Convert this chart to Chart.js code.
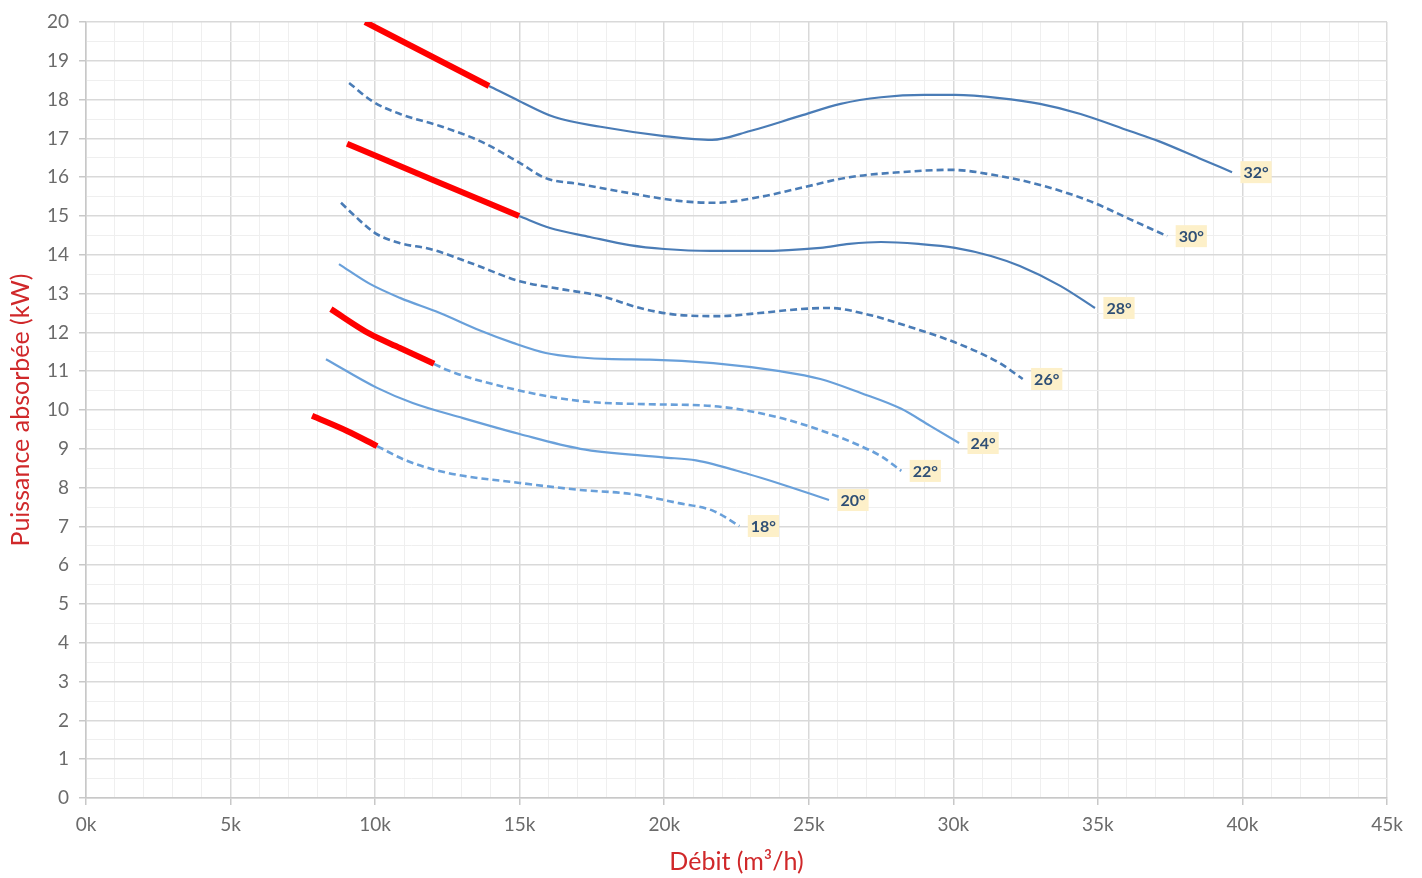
<!DOCTYPE html>
<html>
<head>
<meta charset="utf-8">
<script src="https://cdn.jsdelivr.net/npm/chart.js@4.4.0/dist/chart.umd.min.js"></script>
<style>
  html, body { margin: 0; padding: 0; background: #fff; }
  #wrap { width: 1422px; height: 878px; position: relative; }
</style>
</head>
<body>
<div id="wrap"><canvas id="courbes"></canvas></div>
<script>
// débit en milliers de m3/h, puissance en kW
var debit32 = [13.94, 15.0, 16.2, 17.8, 20.0, 21.65, 22.97, 24.7, 26.1, 27.5, 29.0, 30.06, 31.6, 33.0, 34.4, 36.1, 37.1, 38.5, 39.64];
var puiss32 = [18.35, 17.96, 17.55, 17.3, 17.06, 16.96, 17.19, 17.58, 17.89, 18.06, 18.12, 18.12, 18.04, 17.89, 17.63, 17.19, 16.93, 16.49, 16.13];
var debit32r = [9.65, 13.94];
var puiss32r = [20.0, 18.35];

var debit30 = [9.1, 9.9, 10.86, 12.24, 13.63, 15.0, 15.88, 17.1, 18.8, 20.5, 21.76, 23.3, 24.7, 26.4, 28.2, 29.9, 31.6, 33.0, 34.7, 36.1, 37.4];
var puiss30 = [18.43, 17.96, 17.63, 17.32, 16.93, 16.37, 15.98, 15.82, 15.59, 15.39, 15.34, 15.49, 15.72, 16.0, 16.13, 16.19, 16.03, 15.8, 15.39, 14.92, 14.48];

var debit28 = [14.98, 16.05, 17.43, 18.8, 20.0, 21.6, 23.3, 25.4, 26.4, 27.5, 28.8, 30.06, 31.3, 32.3, 33.7, 34.9];
var puiss28 = [15.0, 14.69, 14.46, 14.25, 14.15, 14.1, 14.1, 14.18, 14.28, 14.33, 14.28, 14.18, 13.97, 13.71, 13.2, 12.63];
var debit28r = [9.03, 12.0, 14.98];
var puiss28r = [16.86, 15.93, 15.0];

var debit26 = [8.82, 9.3, 10.0, 10.86, 11.9, 13.3, 15.0, 16.4, 17.8, 19.2, 20.5, 21.9, 23.3, 24.7, 25.7, 27.1, 28.5, 30.2, 31.6, 32.4];
var puiss26 = [15.34, 15.0, 14.56, 14.3, 14.15, 13.79, 13.32, 13.12, 12.94, 12.62, 12.45, 12.42, 12.5, 12.6, 12.63, 12.45, 12.14, 11.7, 11.21, 10.8];

var debit24 = [8.75, 9.82, 10.86, 12.24, 13.63, 14.77, 15.9, 17.0, 18.2, 19.5, 21.7, 24.0, 25.4, 26.8, 28.2, 29.2, 30.2];
var puiss24 = [13.76, 13.25, 12.89, 12.5, 12.05, 11.73, 11.47, 11.36, 11.31, 11.3, 11.21, 11.0, 10.8, 10.44, 10.03, 9.59, 9.15];

var debit22 = [12.04, 12.49, 14.77, 17.1, 19.4, 21.7, 24.0, 25.7, 26.8, 27.5, 28.2];
var puiss22 = [11.19, 11.03, 10.54, 10.23, 10.15, 10.1, 9.8, 9.4, 9.07, 8.81, 8.43];
var debit22r = [8.47, 9.82, 10.86, 12.04];
var puiss22r = [12.6, 11.96, 11.6, 11.19];

var debit20 = [8.3, 10.07, 11.3, 13.04, 15.0, 17.1, 19.96, 21.1, 22.9, 24.0, 25.7];
var puiss20 = [11.31, 10.57, 10.18, 9.79, 9.38, 9.0, 8.78, 8.7, 8.35, 8.1, 7.68];

var debit18 = [10.07, 11.1, 12.5, 15.0, 17.1, 18.8, 20.5, 21.7, 22.6];
var puiss18 = [9.07, 8.69, 8.38, 8.12, 7.94, 7.84, 7.6, 7.4, 7.01];
var debit18r = [7.82, 9.03, 10.07];
var puiss18r = [9.85, 9.46, 9.07];

var temperatures = ['32°', '30°', '28°', '26°', '24°', '22°', '20°', '18°'];

var xMax = 45;
var yMax = 20;

function pts(xs, ys) {
    return xs.map(function (x, i) { return { x: x, y: ys[i] }; });
}

var bleuFonce = '#4a7cb6';
var bleuClair = '#69a0da';
var rouge = '#ff0000';

function courbe(xs, ys, color, dashed, label) {
    return {
        data: pts(xs, ys),
        borderColor: color,
        borderWidth: dashed ? 2.6 : 2.2,
        borderDash: dashed ? [7, 4] : [],
        pointRadius: 0,
        cubicInterpolationMode: 'monotone',
        tempLabel: label,
        order: 2
    };
}

function segRouge(xs, ys) {
    return {
        data: pts(xs, ys),
        borderColor: rouge,
        borderWidth: 6,
        pointRadius: 0,
        cubicInterpolationMode: 'monotone',
        borderCapStyle: 'butt',
        order: 1
    };
}

var datasets = [
    courbe(debit32, puiss32, bleuFonce, false, temperatures[0]),
    courbe(debit30, puiss30, bleuFonce, true, temperatures[1]),
    courbe(debit28, puiss28, bleuFonce, false, temperatures[2]),
    courbe(debit26, puiss26, bleuFonce, true, temperatures[3]),
    courbe(debit24, puiss24, bleuClair, false, temperatures[4]),
    courbe(debit22, puiss22, bleuClair, true, temperatures[5]),
    courbe(debit20, puiss20, bleuClair, false, temperatures[6]),
    courbe(debit18, puiss18, bleuClair, true, temperatures[7]),
    segRouge(debit32r, puiss32r),
    segRouge(debit28r, puiss28r),
    segRouge(debit22r, puiss22r),
    segRouge(debit18r, puiss18r)
];

// étiquettes de température en bout de courbe
var etiquettes = {
    id: 'etiquettes',
    afterDatasetsDraw: function (chart) {
        var ctx = chart.ctx;
        var xs = chart.scales.x, ys = chart.scales.y;
        ctx.save();
        ctx.font = 'bold 16px Lato, "Open Sans", sans-serif';
        ctx.textAlign = 'center';
        ctx.textBaseline = 'middle';
        chart.data.datasets.forEach(function (ds) {
            if (!ds.tempLabel) return;
            var last = ds.data[ds.data.length - 1];
            var px = xs.getPixelForValue(last.x) + 24;
            var py = ys.getPixelForValue(last.y);
            var w = ctx.measureText(ds.tempLabel).width + 6;
            ctx.fillStyle = '#fdf0c9';
            ctx.fillRect(px - w / 2, py - 11, w, 22);
            ctx.fillStyle = '#2f4f75';
            ctx.fillText(ds.tempLabel, px, py + 1);
        });
        ctx.restore();
    }
};

Chart.defaults.font.family = 'Lato, "Open Sans", sans-serif';

new Chart(document.getElementById('courbes').getContext('2d'), {
    type: 'line',
    data: { datasets: datasets },
    plugins: [etiquettes],
    options: {
        responsive: true,
        maintainAspectRatio: false,
        animation: false,
        layout: { padding: { top: 22, right: 35, left: 0, bottom: 0 } },
        plugins: { legend: { display: false }, tooltip: { enabled: false } },
        scales: {
            x: {
                type: 'linear',
                min: 0,
                max: xMax,
                afterFit: function (s) { s.height = 80; },
                border: { color: '#c8c8c8', width: 1.5 },
                grid: {
                    color: function (c) { return c.tick && c.tick.value % 5 === 0 ? '#d9d9d9' : '#efefef'; },
                    lineWidth: function (c) { return c.tick && c.tick.value % 5 === 0 ? 1.5 : 1; },
                    tickColor: function (c) { return c.tick && c.tick.value % 5 === 0 ? '#c8c8c8' : 'rgba(0,0,0,0)'; },
                    tickLength: 7
                },
                ticks: {
                    stepSize: 1,
                    autoSkip: false,
                    maxRotation: 0,
                    color: '#6b6b6b',
                    font: { size: 19 },
                    padding: 8,
                    callback: function (v) { return v % 5 === 0 ? v + 'k' : ''; }
                },
                title: {
                    display: true,
                    text: 'Débit (m³/h)',
                    color: '#d0282a',
                    font: { size: 25 },
                    padding: { top: 0, bottom: 1 }
                }
            },
            y: {
                type: 'linear',
                min: 0,
                max: yMax,
                afterFit: function (s) { s.width = 86; },
                border: { color: '#c8c8c8', width: 1.5 },
                grid: {
                    color: function (c) { return c.tick && Number.isInteger(c.tick.value) ? '#d9d9d9' : '#efefef'; },
                    lineWidth: function (c) { return c.tick && Number.isInteger(c.tick.value) ? 1.5 : 1; },
                    tickColor: function (c) { return c.tick && Number.isInteger(c.tick.value) ? '#c8c8c8' : 'rgba(0,0,0,0)'; },
                    tickLength: 7
                },
                ticks: {
                    stepSize: 0.5,
                    autoSkip: false,
                    color: '#6b6b6b',
                    font: { size: 19 },
                    padding: 10,
                    callback: function (v) { return Number.isInteger(v) ? v : ''; }
                },
                title: {
                    display: true,
                    text: 'Puissance absorbée (kW)',
                    color: '#d0282a',
                    font: { size: 25 },
                    padding: { top: 6, bottom: 0 }
                }
            }
        }
    }
});
</script>
</body>
</html>
